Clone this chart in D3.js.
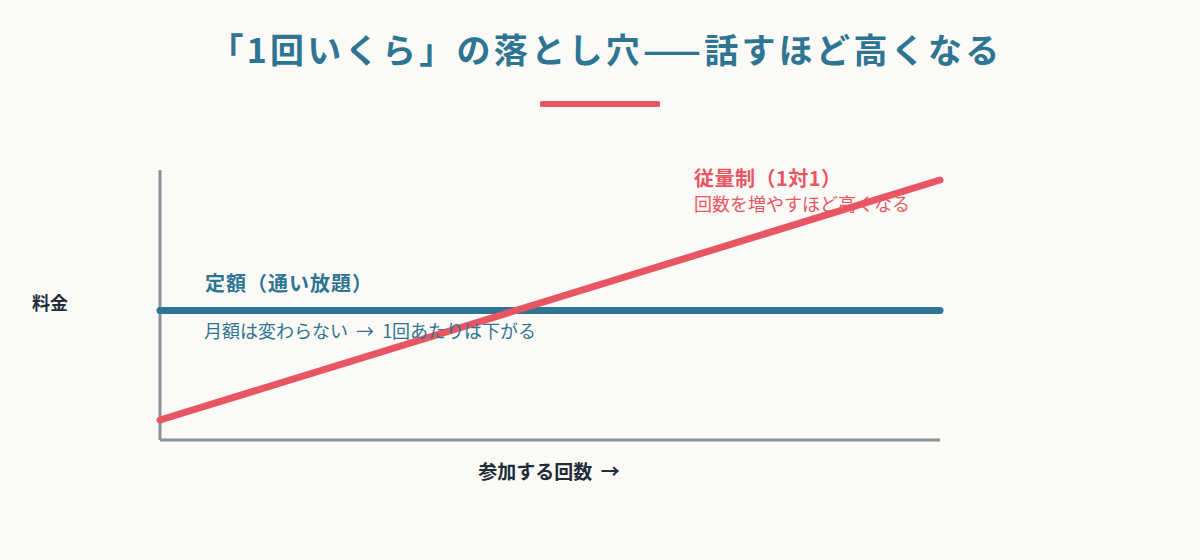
<!DOCTYPE html>
<html><head><meta charset="utf-8">
<script src="https://cdn.jsdelivr.net/npm/d3@7"></script>
<style>
html,body{margin:0;padding:0;background:#fbfaf7;}
svg{display:block;font-family:"Noto Sans CJK JP","Noto Sans",sans-serif;}
</style></head><body>
<svg id="c" width="1200" height="560"></svg>
<script>
const title = "「1回いくら」の落とし穴——話すほど高くなる";
const xDomain = [0, 10];
const yDomain = [0, 100];
const flatSeries = [{x:0,y:48},{x:10,y:48}];
const payPerUseSeries = [{x:0,y:7.4},{x:10,y:96.3}];
const flatLabel = "定額（通い放題）";
const flatNote = "月額は変わらない\u00a0 →\u00a0 1回あたりは下がる";
const payLabel = "従量制（1対1）";
const payNote = "回数を増やすほど高くなる";
const yLabel = "料金";
const xLabel = "参加する回数\u00a0 →";

const teal = "#2e7594", red = "#e85663", axisGray = "#8b9199", dark = "#1f2d3a";
const svg = d3.select("#c");
svg.append("rect").attr("width",1200).attr("height",560).attr("fill","#fbfaf7");

svg.append("text").attr("x",606).attr("y",63).attr("text-anchor","middle")
  .attr("font-size",34).attr("font-weight",700).attr("letter-spacing","3.3px")
  .attr("fill",teal).text(title);
svg.append("rect").attr("x",540).attr("y",101).attr("width",120).attr("height",6)
  .attr("rx",1.5).attr("fill",red);

const x = d3.scaleLinear().domain(xDomain).range([160,940]);
const y = d3.scaleLinear().domain(yDomain).range([440,170]);

// axes
svg.append("line").attr("x1",x(0)).attr("x2",x(0)).attr("y1",y(100)).attr("y2",y(0))
  .attr("stroke",axisGray).attr("stroke-width",3);
svg.append("line").attr("x1",x(0)).attr("x2",x(10)).attr("y1",y(0)).attr("y2",y(0))
  .attr("stroke",axisGray).attr("stroke-width",3);

const line = d3.line().x(d=>x(d.x)).y(d=>y(d.y));
svg.append("path").datum(flatSeries).attr("d",line).attr("fill","none")
  .attr("stroke",teal).attr("stroke-width",7).attr("stroke-linecap","round");
svg.append("path").datum(payPerUseSeries).attr("d",line).attr("fill","none")
  .attr("stroke",red).attr("stroke-width",7).attr("stroke-linecap","round");

svg.append("text").attr("x",205).attr("y",291).attr("font-size",20).attr("font-weight",700)
  .attr("fill",teal).attr("letter-spacing","1px").text(flatLabel);
svg.append("text").attr("x",204).attr("y",338).attr("font-size",18)
  .attr("fill",teal).text(flatNote);
svg.append("text").attr("x",694).attr("y",186).attr("font-size",20).attr("font-weight",700)
  .attr("fill",red).attr("letter-spacing","0.5px").text(payLabel);
svg.append("text").attr("x",694).attr("y",211).attr("font-size",18)
  .attr("fill",red).text(payNote);

svg.append("text").attr("x",50).attr("y",305).attr("text-anchor","middle")
  .attr("dominant-baseline","middle").attr("font-size",18).attr("font-weight",700)
  .attr("fill",dark).text(yLabel);
svg.append("text").attr("x",549).attr("y",479).attr("text-anchor","middle")
  .attr("font-size",19).attr("font-weight",700).attr("fill",dark).text(xLabel);
</script>
</body></html>
